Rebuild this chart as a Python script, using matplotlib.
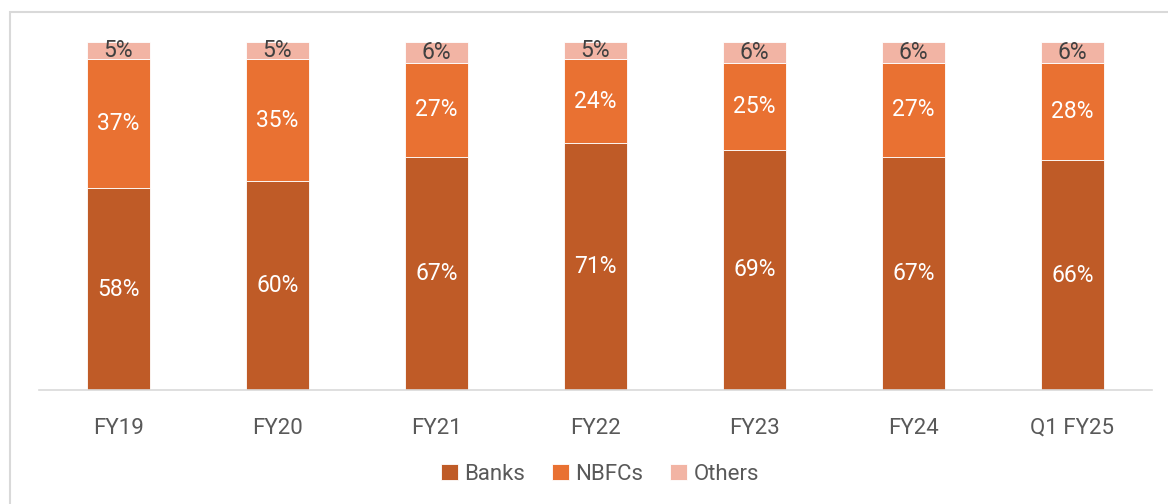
import numpy as np
import matplotlib
matplotlib.use("Agg")
import matplotlib.pyplot as plt
from matplotlib.patches import Rectangle

plt.rcParams['font.family'] = ['Roboto', 'DejaVu Sans']

years = ['FY19', 'FY20', 'FY21', 'FY22', 'FY23', 'FY24', 'Q1 FY25']
banks = [58, 60, 67, 71, 69, 67, 66]
nbfcs = [37, 35, 27, 24, 25, 27, 28]
others = [5, 5, 6, 5, 6, 6, 6]

series = [('Banks', banks, '#BF5B27', 'white'),
          ('NBFCs', nbfcs, '#E97132', 'white'),
          ('Others', others, '#F2B4A4', '#404040')]

fig = plt.figure(figsize=(11.68, 5.04), dpi=100)
ax = fig.add_axes([39/1168, 1 - 390/504, 1113/1168, 348/504])

x = np.arange(len(years))
bottom = np.zeros(len(years))
for name, vals, col, tcol in series:
    vals = np.array(vals, dtype=float)
    ax.bar(x, vals, 0.4, bottom=bottom, color=col, edgecolor='white',
           linewidth=0.6, label=name)
    for xi, b, v in zip(x, bottom, vals):
        ax.text(xi, b + v / 2, f'{int(v)}%', ha='center', va='center',
                color=tcol, fontsize=16.5)
    bottom += vals

ax.set_xlim(-0.5, len(years) - 0.5)
ax.set_ylim(0, 100)
ax.set_yticks([])
ax.set_xticks(x)
ax.set_xticklabels(years, fontsize=16, color='#595959')
ax.tick_params(axis='x', length=0, pad=20)
for s in ['top', 'right', 'left']:
    ax.spines[s].set_visible(False)
ax.spines['bottom'].set_color('#d9d9d9')
ax.spines['bottom'].set_linewidth(1.2)

leg = fig.legend(loc='center', bbox_to_anchor=(600/1168, 1 - 474/504), ncol=3,
                 frameon=False, fontsize=16, handlelength=0.75, handleheight=0.75,
                 handletextpad=0.3, columnspacing=1.2)
for t in leg.get_texts():
    t.set_color('#595959')

fig.patches.append(Rectangle((10/1168, -0.1), 1.2, 1.1 - 12/504, transform=fig.transFigure,
                             fill=False, edgecolor='#d9d9d9', linewidth=1.5))

fig.savefig('out.png', dpi=100)
